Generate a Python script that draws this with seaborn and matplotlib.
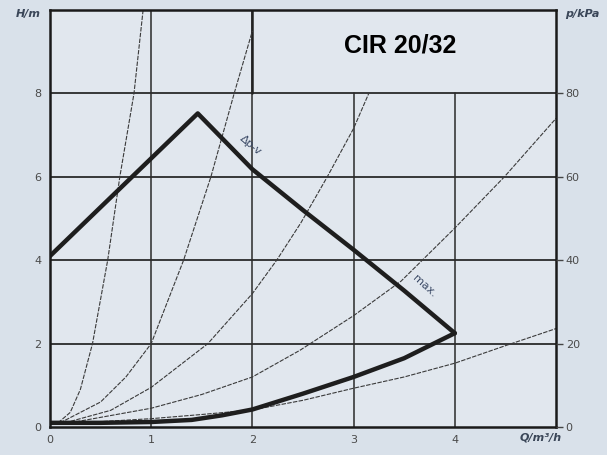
import seaborn as sns
import matplotlib.pyplot as plt

# pump curves (Q in m3/h, H in m)
q_max = [0.0, 1.46, 2.0, 2.5, 3.0, 3.5, 4.0]
h_max = [4.1, 7.52, 6.18, 5.2, 4.25, 3.27, 2.25]
q_min = [0.0, 0.5, 1.0, 1.4, 1.7, 2.0, 2.5, 3.0, 3.5, 4.0]
h_min = [0.1, 0.1, 0.12, 0.17, 0.28, 0.42, 0.8, 1.2, 1.65, 2.25]

# system curves (thin)
q_a = [0.08, 0.2, 0.3, 0.42, 0.57, 0.69, 0.83, 0.92]
h_a = [0.1, 0.35, 0.9, 2.0, 4.0, 6.0, 8.0, 10.0]
q_b = [0.1, 0.5, 0.75, 1.0, 1.32, 1.59, 1.82, 2.0]
h_b = [0.1, 0.6, 1.2, 2.0, 4.0, 6.0, 8.0, 9.5]
q_c = [0.15, 0.6, 1.0, 1.56, 2.0, 2.24, 2.48, 2.74, 3.0, 3.15]
h_c = [0.1, 0.4, 0.95, 2.0, 3.2, 4.0, 4.9, 6.0, 7.16, 8.0]
q_d = [0.2, 1.0, 1.5, 2.0, 2.47, 3.0, 3.47, 4.0, 4.49, 5.0]
h_d = [0.1, 0.45, 0.78, 1.2, 1.84, 2.67, 3.5, 4.77, 6.0, 7.4]
q_e = [0.3, 1.0, 1.5, 2.0, 2.5, 3.0, 3.5, 4.0, 4.5, 5.0]
h_e = [0.1, 0.2, 0.3, 0.41, 0.64, 0.93, 1.2, 1.53, 1.95, 2.36]

x_ticks = [0, 1, 2, 3, 4]
h_ticks = [0, 2, 4, 6, 8]
p_ticks = [0, 20, 40, 60, 80]

sns.set_style("white")
plt.rcParams['font.family'] = ['DejaVu Sans']

fig = plt.figure(figsize=(6.07, 4.55), dpi=100, facecolor='#d9e1ea')
ax = fig.add_axes([50 / 607, 1 - 427 / 455, 506 / 607, 417 / 455])
ax.set_facecolor('#e1e7ee')
ax.set_xlim(0, 5)
ax.set_ylim(0, 10)

# grid: lines at x=3,4 stop under the title box
for x in [1, 2]:
    ax.axvline(x, color='#2a2a2a', lw=1.1, zorder=1)
for x in [3, 4]:
    ax.axvline(x, ymax=0.8, color='#2a2a2a', lw=1.1, zorder=1)
for y in [2, 4, 6, 8]:
    ax.axhline(y, color='#2a2a2a', lw=1.3, zorder=1)
ax.axvline(2, ymin=0.8, color='#222', lw=1.8, zorder=1)

thin = dict(color='#3a3a3a', lw=0.8, linestyle=(0, (4, 1.2)), sort=False, estimator=None, ax=ax)
for qs, hs in [(q_a, h_a), (q_b, h_b), (q_c, h_c), (q_d, h_d), (q_e, h_e)]:
    sns.lineplot(x=qs, y=hs, **thin)

sns.lineplot(x=q_max, y=h_max, color='#1e1e1e', lw=3.2, sort=False, estimator=None, ax=ax)
sns.lineplot(x=q_min, y=h_min, color='#1e1e1e', lw=3.2, sort=False, estimator=None, ax=ax)

ax.text(1.98, 6.75, 'Δp-v', rotation=-40, color='#3b4a66', fontsize=8,
        ha='center', va='center')
ax.text(3.7, 3.38, 'max.', rotation=-42, color='#3b4a66', fontsize=8,
        ha='center', va='center')
ax.text(3.46, 9.16, 'CIR 20/32', fontsize=18, fontweight='bold', color='black',
        ha='center', va='center', family=['Liberation Sans', 'DejaVu Sans'])

for s in ax.spines.values():
    s.set_color('#1a1a1a')
    s.set_linewidth(1.8)

ax.set_xticks(x_ticks)
ax.set_yticks(h_ticks)
ax.tick_params(length=0, labelsize=8, labelcolor='#4a4a4a', pad=6)
ax.set_xlabel('')
ax.set_ylabel('')

ax2 = ax.twinx()
ax2.set_ylim(0, 100)
ax2.set_yticks(p_ticks)
ax2.tick_params(axis='y', length=5, width=1, color='#444', labelsize=8,
                labelcolor='#4a4a4a', pad=2)
for s in ax2.spines.values():
    s.set_visible(False)

fig.text(28 / 607, 1 - 14 / 455, 'H/m', fontsize=8, fontweight='bold', style='italic',
         color='#3a4658', ha='center', va='center')
fig.text(582 / 607, 1 - 14 / 455, 'p/kPa', fontsize=8, fontweight='bold', style='italic',
         color='#3a4658', ha='center', va='center')
fig.text(541 / 607, 1 - 438 / 455, 'Q/m³/h', fontsize=8, fontweight='bold', style='italic',
         color='#3a4658', ha='center', va='center')

fig.savefig('out.png', dpi=100, facecolor=fig.get_facecolor())
